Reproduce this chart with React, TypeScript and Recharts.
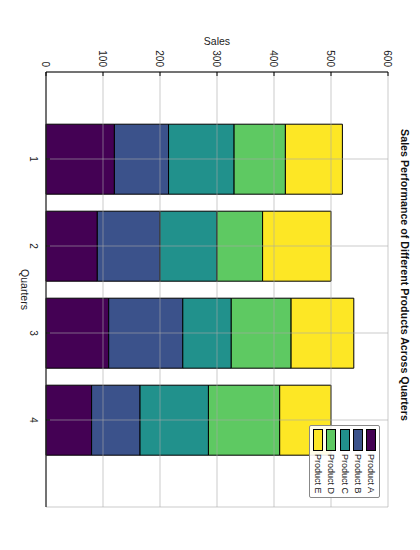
import React from "react";
import { BarChart, Bar, XAxis, YAxis, CartesianGrid, Legend } from "recharts";

// chart is drawn upright, then the whole figure is turned 90deg clockwise
const quarters = ["1", "2", "3", "4"];
const products = ["Product A", "Product B", "Product C", "Product D", "Product E"];
const productA = [120, 90, 110, 80];
const productB = [95, 110, 130, 85];
const productC = [115, 100, 85, 120];
const productD = [90, 80, 105, 125];
const productE = [100, 120, 110, 90];
const salesTicks = [0, 100, 200, 300, 400, 500, 600];
const colors = ["#440154", "#3b528b", "#21918c", "#5ec962", "#fde725"];

const series = [productA, productB, productC, productD, productE];

const data = quarters.map((q, i) => {
  const row: Record<string, string | number> = { quarter: q };
  products.forEach((p, j) => {
    row[p] = series[j][i];
  });
  return row;
});

const font = "'Liberation Sans', Arial, sans-serif";
const tickStyle = { fontSize: 10, fill: "#222", fontFamily: font };
const catPadding = { left: 43.5, right: 43.5 };
const chartMargin = { top: 32, right: 43, bottom: 16, left: 32 };

function LegendBox({ payload }: any) {
  const items = products.map((p) => (payload || []).find((e: any) => e.value === p) ?? { value: p });
  return (
    <div
      style={{
        border: "1px solid #888",
        borderRadius: 2,
        background: "rgba(255,255,255,0.9)",
        padding: "1px 4px 1px 3px",
        boxSizing: "border-box",
        width: 73,
        fontFamily: font,
      }}
    >
      {items.map((entry: any) => (
        <div key={entry.value} style={{ display: "flex", alignItems: "center", height: 13.4 }}>
          <span
            style={{
              width: 20,
              height: 8,
              background: colors[products.indexOf(entry.value)],
              border: "1px solid #000",
              marginRight: 3,
              flex: "none",
            }}
          />
          <span style={{ fontSize: 9, color: "#222", lineHeight: "10px", whiteSpace: "nowrap" }}>
            {entry.value}
          </span>
        </div>
      ))}
    </div>
  );
}

// the same axes in both layers, so both layers get the same plot box
function Axes({ show }: { show: boolean }) {
  const line = show ? { stroke: "#000" } : false;
  return [
    <XAxis
      key="x"
      dataKey="quarter"
      height={30}
      padding={catPadding}
      tick={show ? tickStyle : { fill: "none" }}
      tickSize={-4}
      tickMargin={13}
      interval={0}
      axisLine={line}
      tickLine={line}
      label={
        show
          ? { value: "Quarters", position: "insideTop", offset: 18, fill: "#222", fontSize: 10.5, fontFamily: font }
          : undefined
      }
    />,
    <XAxis
      key="xt"
      xAxisId="top"
      orientation="top"
      dataKey="quarter"
      height={0}
      padding={catPadding}
      tickFormatter={() => ""}
      tickSize={-4}
      interval={0}
      axisLine={line}
      tickLine={line}
    />,
    <YAxis
      key="y"
      type="number"
      width={40}
      domain={[0, 600]}
      ticks={salesTicks}
      interval={0}
      tick={show ? tickStyle : { fill: "none" }}
      tickSize={-4}
      tickMargin={9}
      axisLine={line}
      tickLine={line}
      label={
        show
          ? {
              value: "Sales",
              angle: -90,
              position: "insideLeft",
              offset: 9,
              fill: "#222",
              fontSize: 10.5,
              fontFamily: font,
              style: { textAnchor: "middle" },
            }
          : undefined
      }
    />,
    <YAxis
      key="yr"
      yAxisId="right"
      orientation="right"
      type="number"
      width={0}
      domain={[0, 600]}
      ticks={salesTicks}
      interval={0}
      tickFormatter={() => ""}
      tickSize={-4}
      axisLine={line}
      tickLine={line}
    />,
  ];
}

export default function App() {
  return (
    <div
      style={{
        position: "fixed",
        top: 0,
        left: 0,
        width: 420,
        height: 550,
        overflow: "hidden",
        background: "#fff",
      }}
    >
      <div
        style={{
          position: "absolute",
          top: 0,
          left: 0,
          width: 550,
          height: 420,
          transformOrigin: "0 0",
          transform: "translate(420px, 0) rotate(90deg)",
        }}
      >
        <div
          style={{
            position: "absolute",
            top: 8.5,
            left: 0,
            width: 550,
            textAlign: "center",
            fontFamily: font,
            fontWeight: "bold",
            fontSize: 10.7,
            lineHeight: "12px",
            color: "#111",
          }}
        >
          Sales Performance of Different Products Across Quarters
        </div>

        {/* bottom layer: the filled bars */}
        <div style={{ position: "absolute", top: 0, left: 0 }}>
          <BarChart width={550} height={420} data={data} margin={chartMargin} barCategoryGap="10%">
            {Axes({ show: false })}
            {products.map((p, i) => (
              <Bar
                key={p}
                dataKey={p}
                stackId="sales"
                fill={colors[i]}
                stroke="#000"
                strokeWidth={1}
                isAnimationActive={false}
              />
            ))}
          </BarChart>
        </div>

        {/* top layer: grid over the bars, frame, ticks, labels and legend */}
        <div style={{ position: "absolute", top: 0, left: 0, pointerEvents: "none" }}>
          <BarChart width={550} height={420} data={data} margin={chartMargin} barCategoryGap="10%">
            <CartesianGrid stroke="#a8a8a8" strokeOpacity={0.75} strokeWidth={0.8} />
            {Axes({ show: true })}
            {products.map((p) => (
              <Bar
                key={p}
                dataKey={p}
                stackId="sales"
                fill="none"
                stroke="none"
                isAnimationActive={false}
              />
            ))}
            <Legend
              layout="horizontal"
              verticalAlign="middle"
              align="center"
              content={<LegendBox />}
              wrapperStyle={{ top: 40, left: 425, width: 73 }}
            />
          </BarChart>
        </div>
      </div>
    </div>
  );
}
